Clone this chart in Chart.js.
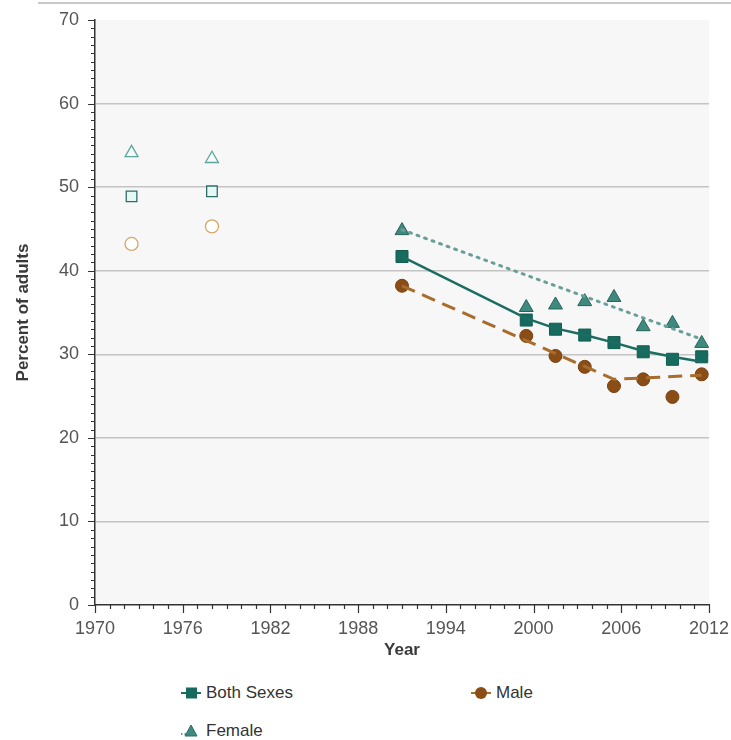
<!DOCTYPE html>
<html>
<head>
<meta charset="utf-8">
<script src="https://cdn.jsdelivr.net/npm/chart.js@4.4.1/dist/chart.umd.min.js"></script>
<style>
  html, body { margin: 0; padding: 0; background: #fff; }
  body { width: 731px; height: 740px; position: relative; overflow: hidden; font-family: "Liberation Sans", Arial, sans-serif; }
  #topRule { position: absolute; left: 38px; top: 2px; width: 693px; height: 2px; background: #c9c9c9; }
  #wrap { position: absolute; left: 0; top: 0; width: 731px; height: 665px; }
  .leg { position: absolute; font-size: 17px; color: #333; display: flex; align-items: center; }
  .leg svg { margin-right: 5px; }
</style>
</head>
<body>
<div id="topRule"></div>
<div id="wrap"><canvas id="chart"></canvas></div>
<div class="leg" style="left:181px; top:683px;">
  <svg width="20" height="14"><line x1="0" y1="7" x2="20" y2="7" stroke="#1b6d62" stroke-width="2"/><rect x="5" y="1.5" width="11" height="11" fill="#166b5e"/></svg>Both Sexes
</div>
<div class="leg" style="left:471px; top:683px;">
  <svg width="20" height="14"><line x1="0" y1="7" x2="20" y2="7" stroke="#a86c2c" stroke-width="2"/><circle cx="10" cy="7" r="6" fill="#8b4d16"/></svg>Male
</div>
<div class="leg" style="left:181px; top:721px;">
  <svg width="20" height="14"><line x1="0" y1="10" x2="5" y2="10" stroke="#6a9e98" stroke-width="2" stroke-dasharray="1.5,2"/><polygon points="10,1 16,12 4,12" fill="#3f8a80" stroke="#2a6e66" stroke-width="1"/></svg>Female
</div>

<script>
// survey-period midpoints
const earlyYears = [1972.5, 1978];
const earlyBoth = [48.9, 49.5];
const earlyFemale = [54.1, 53.4];
const earlyMale = [43.2, 45.3];

const years = [1991, 1999.5, 2001.5, 2003.5, 2005.5, 2007.5, 2009.5, 2011.5];
const both = [41.7, 34.1, 33.0, 32.3, 31.4, 30.3, 29.4, 29.7];
const female = [44.8, 35.6, 35.9, 36.3, 36.8, 33.3, 33.7, 31.3];
const male = [38.2, 32.2, 29.8, 28.5, 26.2, 27.0, 24.9, 27.6];

// fitted trend lines
const bothTrendYears = [1991, 1999.5, 2001.5, 2003.5, 2005.5, 2007.5, 2009.5, 2011.5];
const bothTrend = [41.7, 34.3, 33.1, 32.3, 31.4, 30.4, 29.7, 29.1];
const femaleTrendYears = [1991, 2011.5];
const femaleTrend = [44.9, 31.8];
const maleTrendYears = [1991, 2005.5, 2011.5];
const maleTrend = [38.2, 27.0, 27.5];

const xTickStart = 1970, xTickEnd = 2012, xLabelStep = 6;
const yMin = 0, yMax = 70, yLabelStep = 10;

const FONT = "'Liberation Sans', Arial, sans-serif";
const pts = (xs, ys) => xs.map((x, i) => ({ x, y: ys[i] }));

const plotBg = {
  id: "plotBg",
  beforeDraw(chart) {
    const { ctx, chartArea: a } = chart;
    ctx.save();
    ctx.fillStyle = "#f7f7f7";
    ctx.fillRect(a.left, a.top, a.right - a.left, a.bottom - a.top);
    ctx.restore();
  },
  afterDraw(chart) {
    // major and minor tick marks
    const { ctx } = chart;
    const xs = chart.scales.x, ys = chart.scales.y;
    ctx.save();
    ctx.strokeStyle = "#333";
    ctx.lineWidth = 1.2;
    ctx.beginPath();
    ys.ticks.forEach((t) => {
      const len = t.value % yLabelStep === 0 ? 7 : 4;
      const py = Math.round(ys.getPixelForValue(t.value)) + 0.5;
      ctx.moveTo(ys.right - len, py);
      ctx.lineTo(ys.right, py);
    });
    xs.ticks.forEach((t) => {
      const len = (t.value - xTickStart) % xLabelStep === 0 ? 8 : 4;
      const px = Math.round(xs.getPixelForValue(t.value)) + 0.5;
      ctx.moveTo(px, xs.top);
      ctx.lineTo(px, xs.top + len);
    });
    ctx.stroke();
    ctx.restore();
  },
};

new Chart(document.getElementById("chart"), {
  type: "scatter",
  data: {
    datasets: [
      {
        label: "Female trend", type: "line", data: pts(femaleTrendYears, femaleTrend),
        borderColor: "#6a9e98", borderWidth: 3, borderDash: [2, 6], borderCapStyle: "round",
        pointRadius: 0, fill: false, tension: 0,
      },
      {
        label: "Male trend", type: "line", data: pts(maleTrendYears, maleTrend),
        borderColor: "#a86c2c", borderWidth: 3, borderDash: [14, 8],
        pointRadius: 0, fill: false, tension: 0,
      },
      {
        label: "Both trend", type: "line", data: pts(bothTrendYears, bothTrend),
        borderColor: "#1b6d62", borderWidth: 2.5,
        pointRadius: 0, fill: false, tension: 0,
      },
      {
        label: "Female", data: pts(years, female), pointStyle: "triangle", pointRadius: 8,
        backgroundColor: "#3f8a80", borderColor: "#2a6258", borderWidth: 1,
      },
      {
        label: "Male", data: pts(years, male), pointStyle: "circle", pointRadius: 6.5,
        backgroundColor: "#8b4d16", borderColor: "#7a4010", borderWidth: 1,
      },
      {
        label: "Both Sexes", data: pts(years, both), pointStyle: "rect", pointRadius: 8.5,
        backgroundColor: "#166b5e", borderColor: "#145c52", borderWidth: 1,
      },
      {
        label: "Female early", data: pts(earlyYears, earlyFemale), pointStyle: "triangle", pointRadius: 7.5,
        backgroundColor: "#f3fbfa", borderColor: "#5fa59c", borderWidth: 1.3,
      },
      {
        label: "Both early", data: pts(earlyYears, earlyBoth), pointStyle: "rect", pointRadius: 7.5,
        backgroundColor: "#e6f7f6", borderColor: "#2e6e66", borderWidth: 1.3,
      },
      {
        label: "Male early", data: pts(earlyYears, earlyMale), pointStyle: "circle", pointRadius: 6.5,
        backgroundColor: "#ffffff", borderColor: "#d4a76a", borderWidth: 1.3,
      },
    ],
  },
  options: {
    responsive: true,
    maintainAspectRatio: false,
    animation: false,
    clip: false,
    layout: { padding: { top: 20, right: 22, left: 0, bottom: 0 } },
    plugins: { legend: { display: false }, tooltip: { enabled: false } },
    scales: {
      x: {
        type: "linear",
        min: xTickStart,
        max: xTickEnd,
        afterFit(scale) { scale.height = 60; scale.paddingLeft = 0; scale.paddingRight = 0; },
        ticks: {
          stepSize: 1,
          autoSkip: false,
          maxRotation: 0,
          padding: 13,
          color: "#555",
          font: { family: FONT, size: 18 },
          callback: (v) => ((v - xTickStart) % xLabelStep === 0 ? String(v) : ""),
        },
        grid: { display: false, drawTicks: false },
        border: { display: true, color: "#333", width: 1.5 },
        title: { display: true, text: "Year", color: "#3a3a3a", font: { family: FONT, size: 17, weight: "bold" }, padding: { top: 0 } },
      },
      y: {
        min: yMin,
        max: yMax,
        afterFit(scale) { scale.width = 95; scale.paddingTop = 0; scale.paddingBottom = 0; },
        ticks: {
          stepSize: 1,
          autoSkip: false,
          padding: 16,
          color: "#555",
          font: { family: FONT, size: 18 },
          callback: (v) => (v % yLabelStep === 0 ? String(v) : ""),
        },
        grid: {
          drawTicks: false,
          lineWidth: 1.5,
          color: (c) => (c.tick && c.tick.value % yLabelStep === 0 && c.tick.value !== yMin && c.tick.value !== yMax ? "#c4c4c4" : "rgba(0,0,0,0)"),
        },
        border: { display: true, color: "#333", width: 1.5 },
        title: { display: true, text: "Percent of adults", color: "#3a3a3a", font: { family: FONT, size: 17, weight: "bold" }, padding: { top: 13, bottom: 0 } },
      },
    },
  },
  plugins: [plotBg],
});
</script>
</body>
</html>
